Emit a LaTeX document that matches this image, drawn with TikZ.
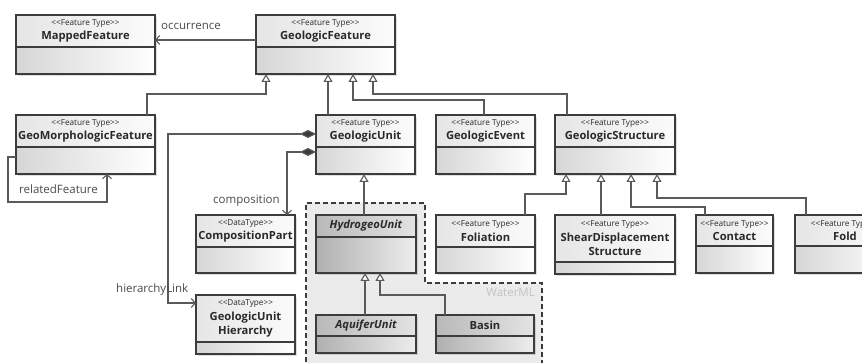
\documentclass[tikz,border=0pt]{standalone}
\usepackage{fontspec}
\setmainfont{Open Sans}
\usetikzlibrary{arrows.meta,calc}
\definecolor{lineC}{HTML}{5A5A5A}
\definecolor{boxC}{HTML}{3C3C3C}
\definecolor{txtC}{HTML}{2A2A2A}
\tikzset{
 lightbody/.style={left color=gray!32, right color=white},
 lighthead/.style={left color=gray!20, right color=gray!3},
 darkbody/.style={left color=gray!62, right color=gray!14},
 darkhead/.style={left color=gray!55, right color=gray!22},
 clsline/.style={draw=boxC, line width=1.1pt},
 clsshadow/.style={fill=black, opacity=0.13},
 title/.style={align=center, inner sep=0pt, text=txtC, font=\fontsize{11.2}{14.5}\selectfont\bfseries},
 gen/.style={draw=lineC, line width=1.1pt, -{Triangle[open, length=8pt, width=9pt, fill=white]}},
 assoc/.style={draw=lineC, line width=1.1pt, -{Straight Barb[length=4pt, width=9pt]}},
 comp/.style={draw=lineC, line width=1.1pt, {Diamond[length=16pt,width=8pt,fill=boxC]}-{Straight Barb[length=4pt, width=9pt]}},
 lbl/.style={inner sep=0pt, text=txtC!85, font=\fontsize{11.5}{13}\selectfont},
 pkg/.style={draw=boxC, line width=1.1pt, dash pattern=on 5pt off 3pt, fill=gray!16},
}
\newcommand\stereo[1]{{\fontsize{8.2}{9}\selectfont\mdseries<{}<#1>{}>}\\}
\newcommand\ucls[8]{%
 \fill[clsshadow] ($(#3,#4)+(2,2)$) rectangle ($(#3,#4)+(#5,#6)+(2,2)$);
 \node[#2body, minimum width=#5pt, minimum height=#6pt, anchor=north west, inner sep=0pt, outer sep=0pt] (#1) at (#3,#4) {};
 \path[#2head] (#1.north west) rectangle ($(#1.north east)+(0,#7)$);
 \draw[clsline] (#1.north west) rectangle (#1.south east);
 \draw[clsline] ($(#1.north west)+(0,#7)$) -- ($(#1.north east)+(0,#7)$);
 \node[title] (#1-t) at ($(#1.north)+(0,#7/2)$) {#8};
}
\begin{document}
\begin{tikzpicture}[x=1pt,y=-1pt]
\clip (0,0) rectangle (862,363);
\fill[white] (0,0) rectangle (862,363);
% WaterML package region
\draw[pkg] (306,370) -- (306,203) -- (425,203) -- (425,283) -- (542,283) -- (542,370);
\node[inner sep=0pt, anchor=base east, text=gray!48, font=\fontsize{11.5}{13}\selectfont] (wml) at (535,297) {WaterML};
% classes
\ucls{mf}{light}{16}{15}{139}{59}{32}{\stereo{Feature Type}MappedFeature}
\ucls{gf}{light}{256}{15}{139}{59}{32}{\stereo{Feature Type}GeologicFeature}
\ucls{gm}{light}{16}{115}{139}{59}{32}{\stereo{Feature Type}GeoMorphologicFeature}
\ucls{gu}{light}{316}{115}{99}{59}{32}{\stereo{Feature Type}GeologicUnit}
\ucls{ge}{light}{436}{115}{99}{59}{32}{\stereo{Feature Type}GeologicEvent}
\ucls{gs}{light}{555}{115}{120}{59}{32}{\stereo{Feature Type}GeologicStructure}
\ucls{cp}{light}{196}{215}{99}{58}{32}{\stereo{DataType}CompositionPart}
\ucls{gh}{light}{196}{295}{99}{59}{47}{\stereo{DataType}GeologicUnit\\Hierarchy}
\ucls{fo}{light}{436}{215}{99}{58}{32}{\stereo{Feature Type}Foliation}
\ucls{sd}{light}{555}{215}{120}{59}{47}{\stereo{Feature Type}ShearDisplacement\\Structure}
\ucls{co}{light}{696}{215}{77}{58}{31}{\stereo{Feature Type}Contact}
\ucls{fd}{light}{795}{215}{100}{58}{31}{\stereo{Feature Type}Fold}
\ucls{hu}{dark}{316}{215}{100}{58}{22}{\itshape HydrogeoUnit}
\ucls{au}{dark}{316}{315}{100}{38}{21}{\itshape AquiferUnit}
\ucls{ba}{dark}{436}{315}{98}{38}{21}{Basin}
% associations
\draw[assoc] ($(gf.north west)+(0,25)$) -- ($(mf.north east)+(0,25)$);
\node[lbl, anchor=base west] (occ) at (161,30) {occurrence};
\draw[comp] ($(gu.north west)+(0,19)$) -- ++(-148,0) |- ($(gh.north west)+(0,8)$);
\node[lbl, anchor=base west] (hl) at (116,293) {hierarchyLink};
\draw[comp] ($(gu.north west)+(0,37)$) -| ($(cp.north east)+(-8,0)$);
\node[lbl, anchor=base west] (cmp) at (213,204) {composition};
\draw[assoc] ($(gm.north west)+(0,42)$) -- ++(-8,0) -- ++(0,45) -| ($(gm.south west)+(91,0)$);
\node[lbl, anchor=base west] (rf) at (19,194) {relatedFeature};
% generalizations
\draw[gen] ($(gm.north west)+(131,0)$) -- ++(0,-21) -| ($(gf.south west)+(10,0)$);
\draw[gen] ($(gu.north west)+(12,0)$) -- ($(gf.south west)+(72,0)$);
\draw[gen] ($(ge.north west)+(48,0)$) -- ++(0,-15) -| ($(gf.south west)+(97,0)$);
\draw[gen] ($(gs.north west)+(12,0)$) -- ++(0,-21) -| ($(gf.south west)+(117,0)$);
\draw[gen] ($(hu.north west)+(48,0)$) -- ($(gu.south west)+(48,0)$);
\draw[gen] ($(au.north west)+(49,0)$) -- ($(hu.south west)+(49,0)$);
\draw[gen] ($(ba.north west)+(9,0)$) -- ++(0,-20) -| ($(hu.south west)+(64,0)$);
\draw[gen] ($(fo.north west)+(89,0)$) -- ++(0,-21) -| ($(gs.south west)+(11,0)$);
\draw[gen] ($(sd.north west)+(46,0)$) -- ($(gs.south west)+(46,0)$);
\draw[gen] ($(co.north west)+(9,0)$) -- ++(0,-8) -| ($(gs.south west)+(76,0)$);
\draw[gen] ($(fd.north west)+(11,0)$) -- ++(0,-17) -| ($(gs.south west)+(102,0)$);
\end{tikzpicture}
\end{document}
